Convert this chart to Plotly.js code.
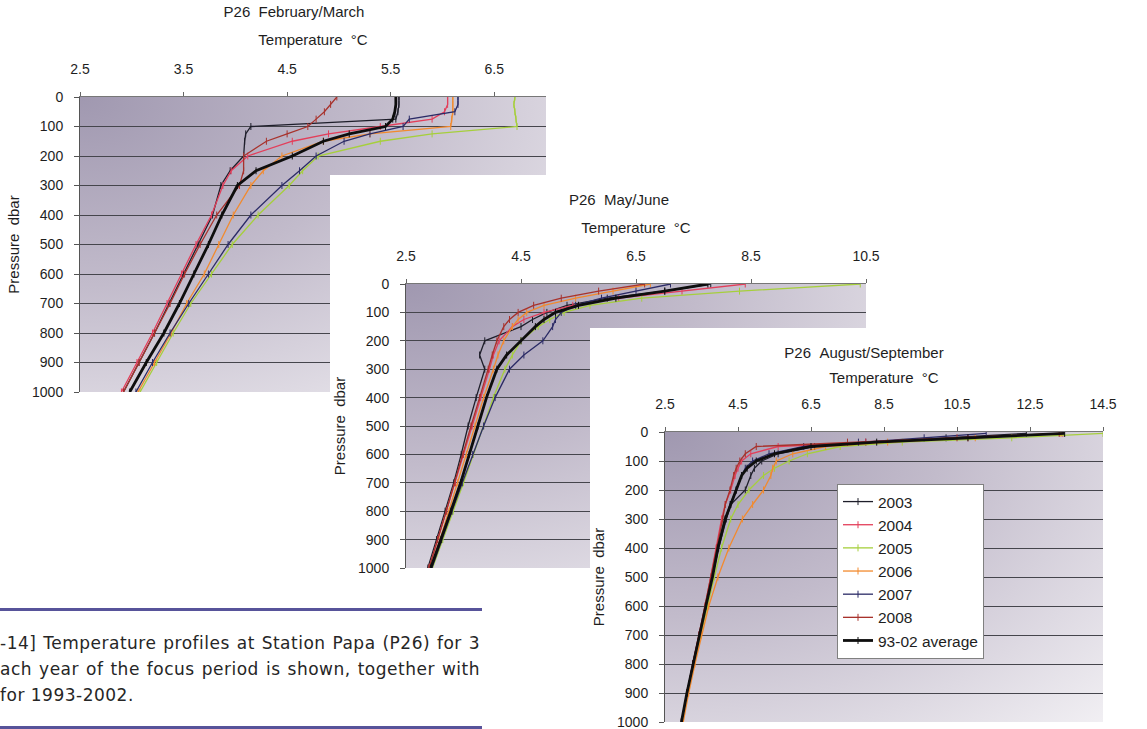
<!DOCTYPE html>
<html>
<head>
<meta charset="utf-8">
<script src="https://cdn.plot.ly/plotly-3.0.1.min.js"></script>
<style>
html,body{margin:0;padding:0;background:#fff;}
body{width:1147px;height:729px;overflow:hidden;position:relative;}
.chart{position:absolute;background:#fff;}
.grad{position:absolute;background:radial-gradient(ellipse farthest-corner at 0% 0%, #a098b0 0%, #c2bbcb 45%, #f1eff3 100%);}
.plot{position:absolute;left:0;top:0;}
.rule{position:absolute;left:0;width:482px;height:3px;background:#57539a;}
.caption{position:absolute;left:0;top:630px;width:480px;font-family:"DejaVu Sans",sans-serif;font-size:17px;letter-spacing:0.5px;line-height:26px;color:#262626;}
.caption .j{text-align:justify;text-align-last:justify;}
</style>
</head>
<body>
<div id="c1" class="chart"></div>
<div id="c2" class="chart"></div>
<div id="c3" class="chart"></div>
<div class="rule" style="top:608px"></div>
<div class="caption">
<div class="j">-14] Temperature profiles at Station Papa (P26) for 3</div>
<div class="j">ach year of the focus period is shown, together with</div>
<div>for 1993-2002.</div>
</div>
<div class="rule" style="top:726px"></div>
<script>
// ---------- data ----------
const seriesNames = ["2003","2004","2005","2006","2007","2008","93-02 average"];

const depthFeb = [0,25,50,75,100,125,150,200,250,300,400,500,600,700,800,900,1000];
const feb2003 = [5.58,5.58,5.57,5.55,4.15,4.10,4.09,4.08,3.95,3.86,3.78,3.64,3.50,3.36,3.22,3.07,2.92];
const feb2004 = [6.05,6.05,6.02,5.90,5.40,4.90,4.55,4.12,3.96,3.88,3.77,3.62,3.48,3.34,3.20,3.05,2.90];
const feb2005 = [6.70,6.69,6.70,6.71,6.72,5.90,5.40,4.80,4.65,4.52,4.22,3.97,3.77,3.57,3.40,3.24,3.08];
const feb2006 = [6.10,6.10,6.10,6.09,6.08,5.30,4.85,4.45,4.27,4.15,3.98,3.84,3.70,3.53,3.38,3.22,3.06];
const feb2007 = [6.15,6.15,6.12,5.68,5.62,5.30,5.05,4.78,4.62,4.45,4.15,3.93,3.74,3.55,3.37,3.20,3.04];
const feb2008 = [4.98,4.92,4.86,4.78,4.70,4.50,4.30,4.08,4.08,4.04,3.82,3.66,3.51,3.37,3.22,3.07,2.92];
const febAvg  = [5.55,5.55,5.54,5.52,5.45,5.10,4.85,4.55,4.20,4.02,3.87,3.74,3.60,3.46,3.31,3.14,2.98];

const depthMay = [0,25,50,75,100,125,150,200,250,300,400,500,600,700,800,900,1000];
const may2003 = [7.80,7.00,6.00,5.30,4.95,4.70,4.50,3.87,3.78,3.87,3.72,3.58,3.46,3.33,3.18,3.03,2.88];
const may2004 = [8.40,7.30,6.20,5.40,4.90,4.55,4.35,4.12,4.02,3.95,3.80,3.65,3.50,3.36,3.21,3.05,2.90];
const may2005 = [10.40,8.30,6.60,5.70,5.25,5.00,4.80,4.50,4.35,4.22,4.02,3.85,3.67,3.50,3.32,3.14,2.96];
const may2006 = [6.75,6.10,5.45,4.90,4.60,4.45,4.35,4.20,4.10,4.02,3.85,3.70,3.55,3.40,3.25,3.09,2.92];
const may2007 = [7.10,6.50,5.90,5.45,5.20,5.10,5.05,4.88,4.55,4.30,4.05,3.85,3.66,3.48,3.30,3.12,2.95];
const may2008 = [6.65,5.85,5.20,4.72,4.45,4.30,4.20,4.08,4.00,3.93,3.78,3.63,3.49,3.35,3.20,3.05,2.90];
const mayAvg  = [7.75,7.00,6.15,5.50,5.10,4.90,4.75,4.50,4.25,4.08,3.90,3.75,3.60,3.45,3.28,3.11,2.93];

const depthAug = [5,20,35,50,75,100,125,150,200,250,300,400,500,600,700,800,900,1000];
const aug2003 = [12.40,10.20,8.00,6.60,5.60,5.15,4.95,4.85,4.70,4.30,4.18,3.97,3.80,3.62,3.44,3.26,3.10,2.95];
const aug2004 = [13.40,10.80,8.00,5.60,4.85,4.60,4.50,4.42,4.30,4.15,4.05,3.90,3.76,3.60,3.43,3.26,3.10,2.95];
const aug2005 = [14.50,12.00,9.00,7.30,6.40,5.90,5.50,5.20,4.80,4.50,4.30,4.05,3.85,3.66,3.47,3.29,3.12,2.97];
const aug2006 = [13.35,11.00,8.60,6.90,6.00,5.55,5.45,5.40,5.20,4.90,4.62,4.25,3.95,3.70,3.50,3.32,3.15,3.00];
const aug2007 = [11.30,9.60,7.80,6.30,5.35,4.90,4.70,4.60,4.45,4.28,4.15,3.95,3.78,3.62,3.44,3.26,3.10,2.95];
const aug2008 = [13.30,10.50,7.50,5.00,4.70,4.55,4.45,4.38,4.28,4.15,4.08,3.92,3.77,3.60,3.43,3.26,3.10,2.95];
const augAvg  = [13.45,10.80,8.30,6.50,5.50,5.00,4.75,4.60,4.45,4.30,4.15,3.95,3.80,3.62,3.44,3.26,3.10,2.95];

// ---------- styles ----------
const colors = ["#1e1e2a","#e33e5a","#a6cf3c","#f28a2e","#2b2b66","#a8322c","#0e0e0e"];
const widths = [1.3,1.3,1.3,1.3,1.3,1.3,2.8];
const FONT = '"Liberation Sans", Arial, sans-serif';
const NB = '\u00a0\u00a0';

function traces(depth, sets, legend){
  return sets.map((t,i)=>({
    type:'scatter', mode:'lines+markers', name:seriesNames[i],
    x:t, y:depth, showlegend:legend,
    line:{color:colors[i], width:widths[i]},
    marker:{symbol:'line-ns-open', size:5, color:colors[i], line:{color:colors[i], width:1}}
  }));
}

function build(id, box, plot, cfg){
  const el = document.getElementById(id);
  el.style.left = box.x+'px'; el.style.top = box.y+'px';
  el.style.width = box.w+'px'; el.style.height = box.h+'px';
  const m = {l:plot.l-box.x, t:plot.t-box.y, r:box.x+box.w-plot.r, b:box.y+box.h-plot.b};
  const g = document.createElement('div'); g.className='grad';
  g.style.left=m.l+'px'; g.style.top=m.t+'px';
  g.style.width=(plot.r-plot.l)+'px'; g.style.height=(plot.b-plot.t)+'px';
  el.appendChild(g);
  const p = document.createElement('div'); p.className='plot'; el.appendChild(p);
  const layout = {
    width:box.w, height:box.h, margin:{l:m.l,t:m.t,r:m.r,b:m.b,pad:0},
    paper_bgcolor:'rgba(0,0,0,0)', plot_bgcolor:'rgba(0,0,0,0)',
    font:{family:FONT, color:'#1e1e1e', size:14},
    title:{text:cfg.title, x:(cfg.titleX-box.x)/box.w, xref:'container', xanchor:'center',
           y:1-(cfg.titleY-box.y)/box.h, yref:'container', yanchor:'middle',
           font:{family:FONT, size:15, color:'#1e1e1e'}},
    showlegend:cfg.legend,
    xaxis:{side:'top', range:cfg.xr, tick0:2.5, dtick:cfg.dt, tickmode:'linear',
           ticks:'outside', ticklen:4, tickcolor:'#666', showline:true, linecolor:'#777', linewidth:1,
           showgrid:false, zeroline:false, tickfont:{family:FONT,size:14,color:'#1e1e1e'},
           ticklabelstandoff:12, ticklabeloverflow:'allow', fixedrange:true,
           title:{text:'Temperature'+NB+'°C', font:{family:FONT,size:15,color:'#1e1e1e'}, standoff:cfg.tso}},
    yaxis:{range:[1000,0], tick0:0, dtick:100, tickmode:'linear',
           ticks:'outside', ticklen:5, tickcolor:'#555', showline:true, linecolor:'#555', linewidth:1,
           showgrid:true, gridcolor:'#45454c', gridwidth:1, zeroline:false,
           tickfont:{family:FONT,size:14,color:'#1e1e1e'}, ticklabelstandoff:8, ticklabeloverflow:'allow', fixedrange:true,
           title:{text:'Pressure'+NB+'dbar', font:{family:FONT,size:15,color:'#1e1e1e'}, standoff:8}},
  };
  if (cfg.legend){
    layout.legend = {x:(cfg.legX-plot.l)/(plot.r-plot.l), y:1-(cfg.legY-plot.t)/(plot.b-plot.t),
      xanchor:'left', yanchor:'top', bgcolor:'#ffffff', bordercolor:'#808080', borderwidth:1,
      font:{family:FONT,size:15.5,color:'#1e1e1e'}, tracegroupgap:0, itemwidth:30};
  }
  Plotly.newPlot(p, cfg.data, layout, {staticPlot:true, displayModeBar:false});
}

build('c1', {x:0,y:0,w:590,h:400}, {l:80,t:97,r:546,b:392},
  {title:'P26'+NB+'February/March', titleX:294, titleY:12, xr:[2.5,7.0], dt:1, legend:false, tso:12,
   data:traces(depthFeb,[feb2003,feb2004,feb2005,feb2006,feb2007,feb2008,febAvg],false)});
build('c2', {x:330,y:175,w:560,h:425}, {l:406,t:284,r:866,b:568},
  {title:'P26'+NB+'May/June', titleX:619, titleY:200, xr:[2.5,10.5], dt:2, legend:false, tso:11,
   data:traces(depthMay,[may2003,may2004,may2005,may2006,may2007,may2008,mayAvg],false)});
build('c3', {x:590,y:328,w:557,h:401}, {l:665,t:432,r:1103,b:722},
  {title:'P26'+NB+'August/September', titleX:864, titleY:353, xr:[2.5,14.5], dt:2, legend:true, tso:9,
   legX:837, legY:484,
   data:traces(depthAug,[aug2003,aug2004,aug2005,aug2006,aug2007,aug2008,augAvg],true)});
</script>
</body>
</html>
